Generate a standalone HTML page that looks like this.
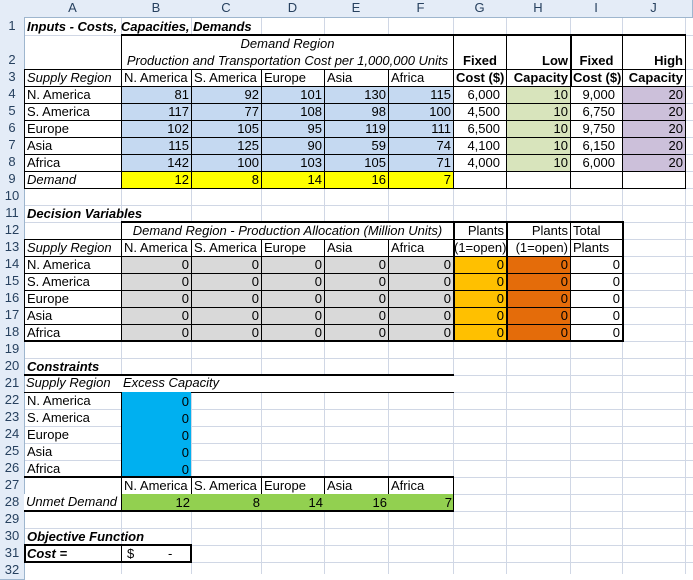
<!DOCTYPE html>
<html><head><meta charset="utf-8">
<style>
body{margin:0;width:693px;height:574px;overflow:hidden;background:#fff;position:relative;font-family:"Liberation Sans",Arial,sans-serif}
.c{position:absolute;box-sizing:border-box;font-size:13px;line-height:16px;padding:0 2px;white-space:nowrap;color:#000}
.r{text-align:right}.m{text-align:center}.i{font-style:italic}.b{font-weight:bold}
.bx{border:1px solid #000}
.h{position:absolute;box-sizing:border-box;background:#e4ecf7;border-right:1px solid #9eb6ce;border-bottom:1px solid #9eb6ce;font-size:13px;color:#27415f;text-align:center;line-height:16px}
.rh{left:0;width:25px}
.t{position:absolute;background:#000}
.bl{background:#c5d9f1}.ye{background:#ffff00}.gr{background:#d8e4bc}.pu{background:#ccc0da}.gy{background:#d9d9d9}.or{background:#ffc000}.dor{background:#e46c0a}.cy{background:#00b0f0}.lg{background:#92d050}
</style></head><body>
<svg width="693" height="574" style="position:absolute;left:0;top:0">
<g stroke="#d0d7e5" stroke-width="1">
<line x1="121.5" y1="0" x2="121.5" y2="574"/><line x1="191.5" y1="0" x2="191.5" y2="574"/><line x1="261.5" y1="0" x2="261.5" y2="574"/><line x1="324.5" y1="0" x2="324.5" y2="574"/><line x1="388.5" y1="0" x2="388.5" y2="574"/><line x1="453.5" y1="0" x2="453.5" y2="574"/><line x1="506.5" y1="0" x2="506.5" y2="574"/><line x1="570.5" y1="0" x2="570.5" y2="574"/><line x1="622.5" y1="0" x2="622.5" y2="574"/><line x1="685.5" y1="0" x2="685.5" y2="574"/>
<line x1="0" y1="35.5" x2="693" y2="35.5"/><line x1="0" y1="69.5" x2="693" y2="69.5"/>
<line x1="0" y1="86.5" x2="693" y2="86.5"/><line x1="0" y1="103.5" x2="693" y2="103.5"/><line x1="0" y1="120.5" x2="693" y2="120.5"/><line x1="0" y1="137.5" x2="693" y2="137.5"/><line x1="0" y1="154.5" x2="693" y2="154.5"/><line x1="0" y1="171.5" x2="693" y2="171.5"/><line x1="0" y1="188.5" x2="693" y2="188.5"/><line x1="0" y1="205.5" x2="693" y2="205.5"/><line x1="0" y1="222.5" x2="693" y2="222.5"/><line x1="0" y1="239.5" x2="693" y2="239.5"/><line x1="0" y1="256.5" x2="693" y2="256.5"/><line x1="0" y1="273.5" x2="693" y2="273.5"/><line x1="0" y1="290.5" x2="693" y2="290.5"/><line x1="0" y1="307.5" x2="693" y2="307.5"/><line x1="0" y1="324.5" x2="693" y2="324.5"/><line x1="0" y1="341.5" x2="693" y2="341.5"/><line x1="0" y1="358.5" x2="693" y2="358.5"/><line x1="0" y1="375.5" x2="693" y2="375.5"/><line x1="0" y1="392.5" x2="693" y2="392.5"/><line x1="0" y1="409.5" x2="693" y2="409.5"/><line x1="0" y1="426.5" x2="693" y2="426.5"/><line x1="0" y1="443.5" x2="693" y2="443.5"/><line x1="0" y1="460.5" x2="693" y2="460.5"/><line x1="0" y1="477.5" x2="693" y2="477.5"/><line x1="0" y1="494.5" x2="693" y2="494.5"/><line x1="0" y1="511.5" x2="693" y2="511.5"/><line x1="0" y1="528.5" x2="693" y2="528.5"/><line x1="0" y1="545.5" x2="693" y2="545.5"/><line x1="0" y1="562.5" x2="693" y2="562.5"/>
</g></svg>

<div class="h" style="left:0;top:0;width:25px;height:18px"></div>
<div class="h" style="left:24px;top:0;width:98px;height:18px">A</div>
<div class="h" style="left:121px;top:0;width:71px;height:18px">B</div>
<div class="h" style="left:191px;top:0;width:71px;height:18px">C</div>
<div class="h" style="left:261px;top:0;width:64px;height:18px">D</div>
<div class="h" style="left:324px;top:0;width:65px;height:18px">E</div>
<div class="h" style="left:388px;top:0;width:66px;height:18px">F</div>
<div class="h" style="left:453px;top:0;width:54px;height:18px">G</div>
<div class="h" style="left:506px;top:0;width:65px;height:18px">H</div>
<div class="h" style="left:570px;top:0;width:53px;height:18px">I</div>
<div class="h" style="left:622px;top:0;width:64px;height:18px">J</div>
<div class="h" style="left:685px;top:0;width:8px;height:18px"></div>

<div class="h rh" style="top:17px;height:19px;line-height:18px">1</div>
<div class="h rh" style="top:35px;height:35px;line-height:50px">2</div>
<div class="h rh" style="top:69px;height:18px">3</div>
<div class="h rh" style="top:86px;height:18px">4</div>
<div class="h rh" style="top:103px;height:18px">5</div>
<div class="h rh" style="top:120px;height:18px">6</div>
<div class="h rh" style="top:137px;height:18px">7</div>
<div class="h rh" style="top:154px;height:18px">8</div>
<div class="h rh" style="top:171px;height:18px">9</div>
<div class="h rh" style="top:188px;height:18px">10</div>
<div class="h rh" style="top:205px;height:18px">11</div>
<div class="h rh" style="top:222px;height:18px">12</div>
<div class="h rh" style="top:239px;height:18px">13</div>
<div class="h rh" style="top:256px;height:18px">14</div>
<div class="h rh" style="top:273px;height:18px">15</div>
<div class="h rh" style="top:290px;height:18px">16</div>
<div class="h rh" style="top:307px;height:18px">17</div>
<div class="h rh" style="top:324px;height:18px">18</div>
<div class="h rh" style="top:341px;height:18px">19</div>
<div class="h rh" style="top:358px;height:18px">20</div>
<div class="h rh" style="top:375px;height:18px">21</div>
<div class="h rh" style="top:392px;height:18px">22</div>
<div class="h rh" style="top:409px;height:18px">23</div>
<div class="h rh" style="top:426px;height:18px">24</div>
<div class="h rh" style="top:443px;height:18px">25</div>
<div class="h rh" style="top:460px;height:18px">26</div>
<div class="h rh" style="top:477px;height:18px">27</div>
<div class="h rh" style="top:494px;height:18px">28</div>
<div class="h rh" style="top:511px;height:18px">29</div>
<div class="h rh" style="top:528px;height:18px">30</div>
<div class="h rh" style="top:545px;height:18px">31</div>
<div class="h rh" style="top:562px;height:18px">32</div>

<div class="c b i" style="left:25px;top:18px;line-height:17px">Inputs - Costs, Capacities, Demands</div>

<div style="position:absolute;left:121px;top:35px;width:333px;height:35px;background:#fff;border-left:1px solid #000;box-sizing:border-box"></div>
<div class="c i m" style="left:121px;top:36px;width:333px">Demand Region</div>
<div class="c i m" style="left:121px;top:53px;width:333px">Production and Transportation Cost per 1,000,000 Units</div>
<div class="c bx b m" style="left:453px;top:35px;width:54px;height:35px;line-height:16px;padding-top:17px">Fixed</div>
<div class="c bx b r" style="left:506px;top:35px;width:65px;height:35px;padding-top:17px">Low</div>
<div class="c bx b m" style="left:570px;top:35px;width:53px;height:35px;padding-top:17px">Fixed</div>
<div class="c bx b r" style="left:622px;top:35px;width:64px;height:35px;padding-top:17px">High</div>
<div class="t" style="left:121px;top:34px;width:565px;height:2px"></div>

<div class="c bx i" style="left:24px;top:69px;width:98px;height:18px">Supply Region</div>
<div class="c bx" style="left:121px;top:69px;width:71px;height:18px">N. America</div>
<div class="c bx" style="left:191px;top:69px;width:71px;height:18px">S. America</div>
<div class="c bx" style="left:261px;top:69px;width:64px;height:18px">Europe</div>
<div class="c bx" style="left:324px;top:69px;width:65px;height:18px">Asia</div>
<div class="c bx" style="left:388px;top:69px;width:66px;height:18px">Africa</div>
<div class="c bx b m" style="left:453px;top:69px;width:54px;height:18px">Cost ($)</div>
<div class="c bx b r" style="left:506px;top:69px;width:65px;height:18px">Capacity</div>
<div class="c bx b m" style="left:570px;top:69px;width:53px;height:18px">Cost ($)</div>
<div class="c bx b r" style="left:622px;top:69px;width:64px;height:18px">Capacity</div>

<div class="c bx" style="left:24px;top:86px;width:98px;height:18px">N. America</div>
<div class="c bx r bl" style="left:121px;top:86px;width:71px;height:18px">81</div>
<div class="c bx r bl" style="left:191px;top:86px;width:71px;height:18px">92</div>
<div class="c bx r bl" style="left:261px;top:86px;width:64px;height:18px">101</div>
<div class="c bx r bl" style="left:324px;top:86px;width:65px;height:18px">130</div>
<div class="c bx r bl" style="left:388px;top:86px;width:66px;height:18px">115</div>
<div class="c bx r" style="left:453px;top:86px;width:54px;height:18px;padding-right:6px">6,000</div>
<div class="c bx r gr" style="left:506px;top:86px;width:65px;height:18px">10</div>
<div class="c bx r" style="left:570px;top:86px;width:53px;height:18px;padding-right:7px">9,000</div>
<div class="c bx r pu" style="left:622px;top:86px;width:64px;height:18px">20</div>

<div class="c bx" style="left:24px;top:103px;width:98px;height:18px">S. America</div>
<div class="c bx r bl" style="left:121px;top:103px;width:71px;height:18px">117</div>
<div class="c bx r bl" style="left:191px;top:103px;width:71px;height:18px">77</div>
<div class="c bx r bl" style="left:261px;top:103px;width:64px;height:18px">108</div>
<div class="c bx r bl" style="left:324px;top:103px;width:65px;height:18px">98</div>
<div class="c bx r bl" style="left:388px;top:103px;width:66px;height:18px">100</div>
<div class="c bx r" style="left:453px;top:103px;width:54px;height:18px;padding-right:6px">4,500</div>
<div class="c bx r gr" style="left:506px;top:103px;width:65px;height:18px">10</div>
<div class="c bx r" style="left:570px;top:103px;width:53px;height:18px;padding-right:7px">6,750</div>
<div class="c bx r pu" style="left:622px;top:103px;width:64px;height:18px">20</div>

<div class="c bx" style="left:24px;top:120px;width:98px;height:18px">Europe</div>
<div class="c bx r bl" style="left:121px;top:120px;width:71px;height:18px">102</div>
<div class="c bx r bl" style="left:191px;top:120px;width:71px;height:18px">105</div>
<div class="c bx r bl" style="left:261px;top:120px;width:64px;height:18px">95</div>
<div class="c bx r bl" style="left:324px;top:120px;width:65px;height:18px">119</div>
<div class="c bx r bl" style="left:388px;top:120px;width:66px;height:18px">111</div>
<div class="c bx r" style="left:453px;top:120px;width:54px;height:18px;padding-right:6px">6,500</div>
<div class="c bx r gr" style="left:506px;top:120px;width:65px;height:18px">10</div>
<div class="c bx r" style="left:570px;top:120px;width:53px;height:18px;padding-right:7px">9,750</div>
<div class="c bx r pu" style="left:622px;top:120px;width:64px;height:18px">20</div>

<div class="c bx" style="left:24px;top:137px;width:98px;height:18px">Asia</div>
<div class="c bx r bl" style="left:121px;top:137px;width:71px;height:18px">115</div>
<div class="c bx r bl" style="left:191px;top:137px;width:71px;height:18px">125</div>
<div class="c bx r bl" style="left:261px;top:137px;width:64px;height:18px">90</div>
<div class="c bx r bl" style="left:324px;top:137px;width:65px;height:18px">59</div>
<div class="c bx r bl" style="left:388px;top:137px;width:66px;height:18px">74</div>
<div class="c bx r" style="left:453px;top:137px;width:54px;height:18px;padding-right:6px">4,100</div>
<div class="c bx r gr" style="left:506px;top:137px;width:65px;height:18px">10</div>
<div class="c bx r" style="left:570px;top:137px;width:53px;height:18px;padding-right:7px">6,150</div>
<div class="c bx r pu" style="left:622px;top:137px;width:64px;height:18px">20</div>

<div class="c bx" style="left:24px;top:154px;width:98px;height:18px">Africa</div>
<div class="c bx r bl" style="left:121px;top:154px;width:71px;height:18px">142</div>
<div class="c bx r bl" style="left:191px;top:154px;width:71px;height:18px">100</div>
<div class="c bx r bl" style="left:261px;top:154px;width:64px;height:18px">103</div>
<div class="c bx r bl" style="left:324px;top:154px;width:65px;height:18px">105</div>
<div class="c bx r bl" style="left:388px;top:154px;width:66px;height:18px">71</div>
<div class="c bx r" style="left:453px;top:154px;width:54px;height:18px;padding-right:6px">4,000</div>
<div class="c bx r gr" style="left:506px;top:154px;width:65px;height:18px">10</div>
<div class="c bx r" style="left:570px;top:154px;width:53px;height:18px;padding-right:7px">6,000</div>
<div class="c bx r pu" style="left:622px;top:154px;width:64px;height:18px">20</div>

<div class="c bx i" style="left:24px;top:171px;width:98px;height:18px">Demand</div>
<div class="c bx r ye" style="left:121px;top:171px;width:71px;height:18px">12</div>
<div class="c bx r ye" style="left:191px;top:171px;width:71px;height:18px">8</div>
<div class="c bx r ye" style="left:261px;top:171px;width:64px;height:18px">14</div>
<div class="c bx r ye" style="left:324px;top:171px;width:65px;height:18px">16</div>
<div class="c bx r ye" style="left:388px;top:171px;width:66px;height:18px">7</div>
<div class="c bx" style="left:453px;top:171px;width:54px;height:18px"></div>
<div class="c bx" style="left:506px;top:171px;width:65px;height:18px"></div>
<div class="c bx" style="left:570px;top:171px;width:53px;height:18px"></div>
<div class="c bx" style="left:622px;top:171px;width:64px;height:18px"></div>
<div class="t" style="left:570px;top:35px;width:2px;height:52px"></div>

<div class="c b i" style="left:25px;top:206px">Decision Variables</div>

<div style="position:absolute;left:121px;top:222px;width:333px;height:18px;border-left:1px solid #000;box-sizing:border-box;background:#fff"></div>
<div class="c i m" style="left:121px;top:223px;width:333px">Demand Region - Production Allocation (Million Units)</div>
<div class="c bx r" style="left:453px;top:222px;width:54px;height:18px">Plants</div>
<div class="c bx r" style="left:506px;top:222px;width:65px;height:18px">Plants</div>
<div class="c bx" style="left:570px;top:222px;width:53px;height:18px">Total</div>

<div class="c bx i" style="left:24px;top:239px;width:98px;height:18px">Supply Region</div>
<div class="c bx" style="left:121px;top:239px;width:71px;height:18px">N. America</div>
<div class="c bx" style="left:191px;top:239px;width:71px;height:18px">S. America</div>
<div class="c bx" style="left:261px;top:239px;width:64px;height:18px">Europe</div>
<div class="c bx" style="left:324px;top:239px;width:65px;height:18px">Asia</div>
<div class="c bx" style="left:388px;top:239px;width:66px;height:18px">Africa</div>
<div class="c bx r" style="left:453px;top:239px;width:54px;height:18px;padding:0">(1=open)</div>
<div class="c bx r" style="left:506px;top:239px;width:65px;height:18px">(1=open)</div>
<div class="c bx" style="left:570px;top:239px;width:53px;height:18px">Plants</div>

<div class="c bx" style="left:24px;top:256px;width:98px;height:18px">N. America</div>
<div class="c bx" style="left:24px;top:273px;width:98px;height:18px">S. America</div>
<div class="c bx" style="left:24px;top:290px;width:98px;height:18px">Europe</div>
<div class="c bx" style="left:24px;top:307px;width:98px;height:18px">Asia</div>
<div class="c bx" style="left:24px;top:324px;width:98px;height:18px">Africa</div>

<div class="c bx r gy" style="left:121px;top:256px;width:71px;height:18px">0</div><div class="c bx r gy" style="left:191px;top:256px;width:71px;height:18px">0</div><div class="c bx r gy" style="left:261px;top:256px;width:64px;height:18px">0</div><div class="c bx r gy" style="left:324px;top:256px;width:65px;height:18px">0</div><div class="c bx r gy" style="left:388px;top:256px;width:66px;height:18px">0</div><div class="c bx r or" style="left:453px;top:256px;width:54px;height:18px">0</div><div class="c bx r dor" style="left:506px;top:256px;width:65px;height:18px">0</div><div class="c bx r" style="left:570px;top:256px;width:53px;height:18px">0</div>
<div class="c bx r gy" style="left:121px;top:273px;width:71px;height:18px">0</div><div class="c bx r gy" style="left:191px;top:273px;width:71px;height:18px">0</div><div class="c bx r gy" style="left:261px;top:273px;width:64px;height:18px">0</div><div class="c bx r gy" style="left:324px;top:273px;width:65px;height:18px">0</div><div class="c bx r gy" style="left:388px;top:273px;width:66px;height:18px">0</div><div class="c bx r or" style="left:453px;top:273px;width:54px;height:18px">0</div><div class="c bx r dor" style="left:506px;top:273px;width:65px;height:18px">0</div><div class="c bx r" style="left:570px;top:273px;width:53px;height:18px">0</div>
<div class="c bx r gy" style="left:121px;top:290px;width:71px;height:18px">0</div><div class="c bx r gy" style="left:191px;top:290px;width:71px;height:18px">0</div><div class="c bx r gy" style="left:261px;top:290px;width:64px;height:18px">0</div><div class="c bx r gy" style="left:324px;top:290px;width:65px;height:18px">0</div><div class="c bx r gy" style="left:388px;top:290px;width:66px;height:18px">0</div><div class="c bx r or" style="left:453px;top:290px;width:54px;height:18px">0</div><div class="c bx r dor" style="left:506px;top:290px;width:65px;height:18px">0</div><div class="c bx r" style="left:570px;top:290px;width:53px;height:18px">0</div>
<div class="c bx r gy" style="left:121px;top:307px;width:71px;height:18px">0</div><div class="c bx r gy" style="left:191px;top:307px;width:71px;height:18px">0</div><div class="c bx r gy" style="left:261px;top:307px;width:64px;height:18px">0</div><div class="c bx r gy" style="left:324px;top:307px;width:65px;height:18px">0</div><div class="c bx r gy" style="left:388px;top:307px;width:66px;height:18px">0</div><div class="c bx r or" style="left:453px;top:307px;width:54px;height:18px">0</div><div class="c bx r dor" style="left:506px;top:307px;width:65px;height:18px">0</div><div class="c bx r" style="left:570px;top:307px;width:53px;height:18px">0</div>
<div class="c bx r gy" style="left:121px;top:324px;width:71px;height:18px">0</div><div class="c bx r gy" style="left:191px;top:324px;width:71px;height:18px">0</div><div class="c bx r gy" style="left:261px;top:324px;width:64px;height:18px">0</div><div class="c bx r gy" style="left:324px;top:324px;width:65px;height:18px">0</div><div class="c bx r gy" style="left:388px;top:324px;width:66px;height:18px">0</div><div class="c bx r or" style="left:453px;top:324px;width:54px;height:18px">0</div><div class="c bx r dor" style="left:506px;top:324px;width:65px;height:18px">0</div><div class="c bx r" style="left:570px;top:324px;width:53px;height:18px">0</div>
<div class="t" style="left:121px;top:221px;width:503px;height:2px"></div>
<div class="t" style="left:622px;top:221px;width:2px;height:121px"></div>
<div class="t" style="left:24px;top:340px;width:600px;height:2px"></div>
<div class="t" style="left:506px;top:222px;width:2px;height:120px"></div>
<div class="t" style="left:453px;top:222px;width:2px;height:120px"></div>

<div class="c b i" style="left:25px;top:359px">Constraints</div>
<div class="c i" style="left:24px;top:375px;width:98px;height:18px;border-right:1px solid #000;border-bottom:1px solid #000">Supply Region</div>
<div class="c i" style="left:121px;top:375px;width:333px;height:18px;border-bottom:1px solid #000;background:#fff">Excess Capacity</div>
<div class="t" style="left:24px;top:374px;width:430px;height:2px"></div>
<div class="c" style="left:25px;top:393px">N. America</div>
<div class="c" style="left:25px;top:410px">S. America</div>
<div class="c" style="left:25px;top:427px">Europe</div>
<div class="c" style="left:25px;top:444px">Asia</div>
<div class="c" style="left:25px;top:461px">Africa</div>
<div class="c r cy" style="left:121px;top:392px;width:70px;height:86px;line-height:17px;border-left:1px solid #000;padding-top:1px">0<br>0<br>0<br>0<br>0</div>

<div class="c" style="left:24px;top:477px;width:98px;height:18px;border-right:1px solid #000"></div>
<div class="c bx" style="left:121px;top:477px;width:71px;height:18px">N. America</div>
<div class="c bx" style="left:191px;top:477px;width:71px;height:18px">S. America</div>
<div class="c bx" style="left:261px;top:477px;width:64px;height:18px">Europe</div>
<div class="c bx" style="left:324px;top:477px;width:65px;height:18px">Asia</div>
<div class="c bx" style="left:388px;top:477px;width:66px;height:18px">Africa</div>
<div class="c i" style="left:24px;top:494px;width:98px;height:18px;border-right:1px solid #000;background:#fff">Unmet Demand</div>
<div class="c lg" style="left:122px;top:494px;width:332px;height:18px;border-right:1px solid #000"></div>
<div class="c r" style="left:121px;top:495px;width:71px">12</div>
<div class="c r" style="left:191px;top:495px;width:71px">8</div>
<div class="c r" style="left:261px;top:495px;width:64px">14</div>
<div class="c r" style="left:324px;top:495px;width:65px">16</div>
<div class="c r" style="left:388px;top:495px;width:66px">7</div>
<div class="t" style="left:24px;top:476px;width:430px;height:2px"></div>
<div class="t" style="left:24px;top:510px;width:430px;height:2px"></div>

<div class="c b i" style="left:25px;top:529px">Objective Function</div>
<div style="position:absolute;left:24px;top:544px;width:168px;height:19px;border:2px solid #000;box-sizing:border-box;background:#fff"></div>
<div class="t" style="left:121px;top:545px;width:1px;height:17px"></div>
<div class="c b i" style="left:25px;top:546px">Cost =</div>
<div class="c" style="left:125px;top:546px">$</div>
<div class="c" style="left:166px;top:546px">-</div>
</body></html>
